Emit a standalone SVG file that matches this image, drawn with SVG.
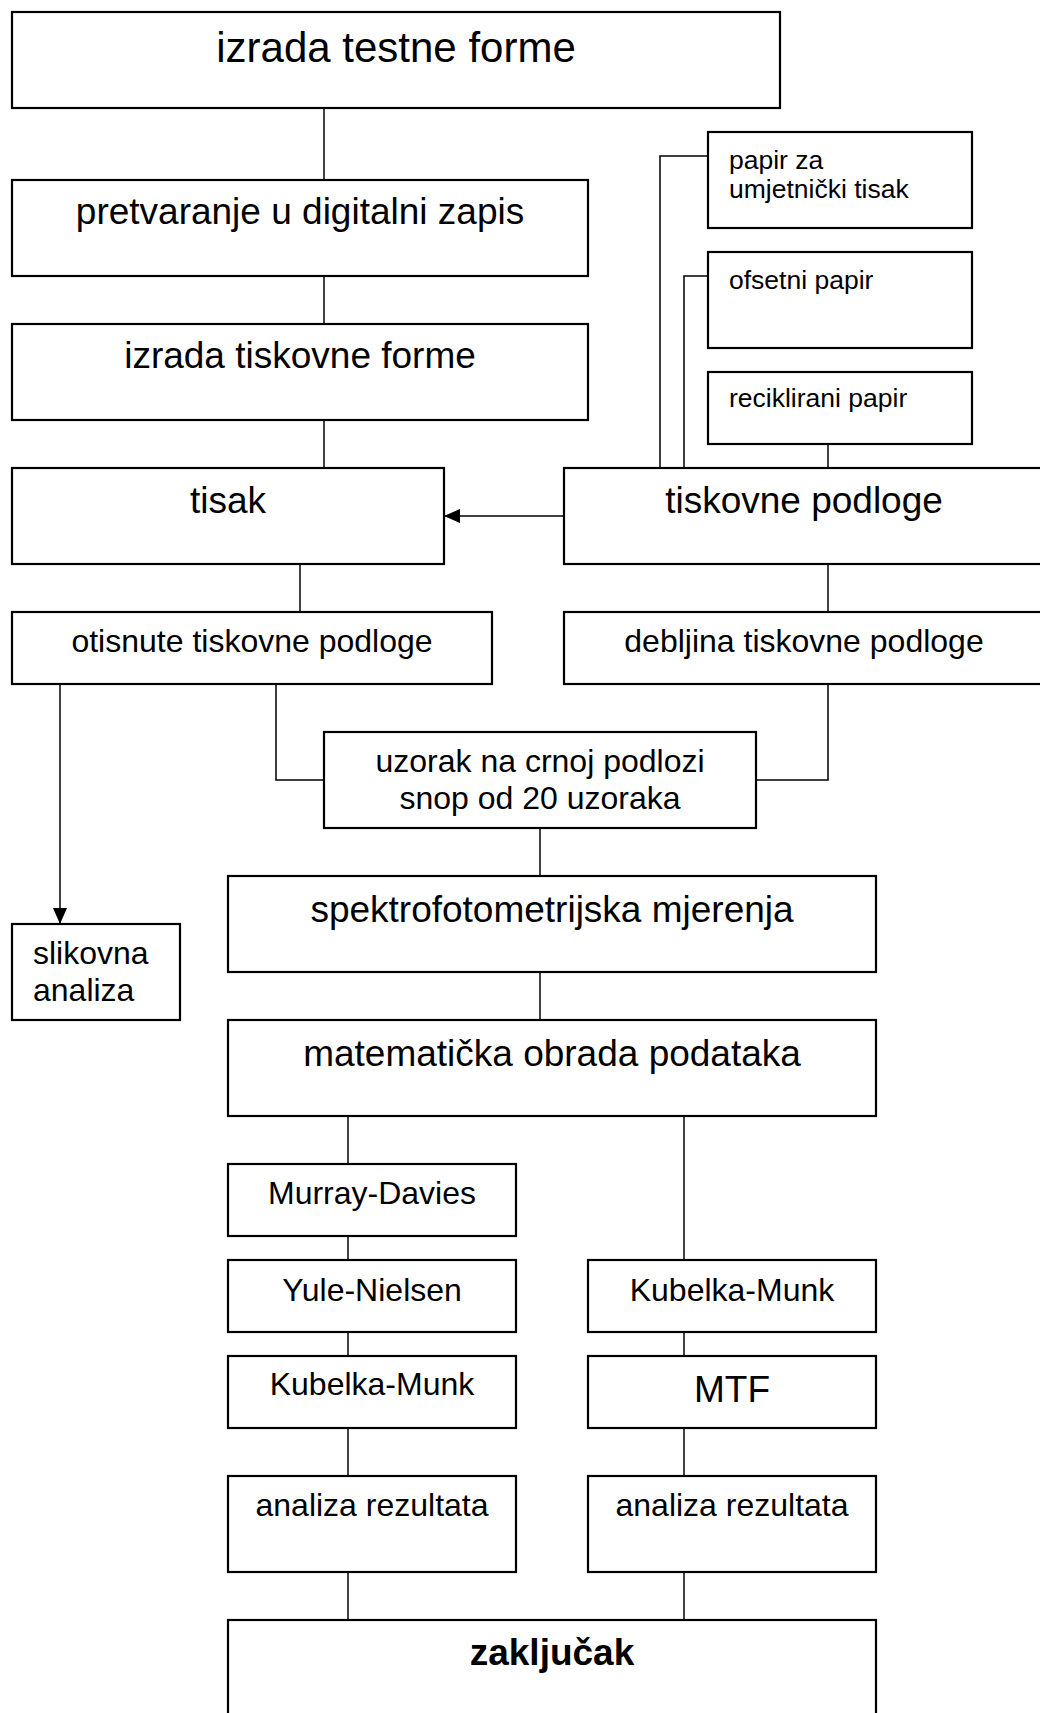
<svg xmlns="http://www.w3.org/2000/svg" width="1040" height="1713" viewBox="0 0 1040 1713">
<style>
  .box { fill: #ffffff; stroke: #000000; stroke-width: 2.2; }
  .conn { fill: none; stroke: #000000; stroke-width: 1.5; }
  text { font-family: "Liberation Sans", Arial, sans-serif; fill: #000000; }
  .c { text-anchor: middle; }
  .xl { font-size: 42px; }
  .l { font-size: 37px; }
  .m { font-size: 32px; }
  .s { font-size: 26.5px; }
  .b { font-weight: bold; }
</style>
<defs>
  <marker id="arrow" markerUnits="userSpaceOnUse" markerWidth="16" markerHeight="14" viewBox="0 0 16 14" refX="16" refY="7" orient="auto">
    <path d="M0,0 L16,7 L0,14 z" fill="#000000"/>
  </marker>
</defs>
<rect x="0" y="0" width="1040" height="1713" fill="#ffffff"/>

<g id="connectors">
  <line class="conn" x1="324" y1="108" x2="324" y2="180"/>
  <line class="conn" x1="324" y1="276" x2="324" y2="324"/>
  <line class="conn" x1="324" y1="420" x2="324" y2="468"/>
  <path class="conn" d="M708,156 H660 V468"/>
  <path class="conn" d="M708,276 H684 V468"/>
  <line class="conn" x1="828" y1="444" x2="828" y2="468"/>
  <line class="conn" x1="564" y1="516" x2="444" y2="516" marker-end="url(#arrow)"/>
  <line class="conn" x1="300" y1="564" x2="300" y2="612"/>
  <line class="conn" x1="828" y1="564" x2="828" y2="612"/>
  <path class="conn" d="M276,684 V780 H324"/>
  <path class="conn" d="M828,684 V780 H756"/>
  <line class="conn" x1="60" y1="684" x2="60" y2="924" marker-end="url(#arrow)"/>
  <line class="conn" x1="540" y1="828" x2="540" y2="876"/>
  <line class="conn" x1="540" y1="972" x2="540" y2="1020"/>
  <line class="conn" x1="348" y1="1116" x2="348" y2="1164"/>
  <line class="conn" x1="684" y1="1116" x2="684" y2="1260"/>
  <line class="conn" x1="348" y1="1236" x2="348" y2="1260"/>
  <line class="conn" x1="348" y1="1332" x2="348" y2="1356"/>
  <line class="conn" x1="684" y1="1332" x2="684" y2="1356"/>
  <line class="conn" x1="348" y1="1428" x2="348" y2="1476"/>
  <line class="conn" x1="684" y1="1428" x2="684" y2="1476"/>
  <line class="conn" x1="348" y1="1572" x2="348" y2="1620"/>
  <line class="conn" x1="684" y1="1572" x2="684" y2="1620"/>
</g>

<g id="izrada-testne-forme">
  <rect class="box" x="12" y="12" width="768" height="96"/>
  <text class="c xl" x="396" y="62">izrada testne forme</text>
</g>
<g id="pretvaranje">
  <rect class="box" x="12" y="180" width="576" height="96"/>
  <text class="c l" x="300" y="224">pretvaranje u digitalni zapis</text>
</g>
<g id="izrada-tiskovne-forme">
  <rect class="box" x="12" y="324" width="576" height="96"/>
  <text class="c l" x="300" y="368">izrada tiskovne forme</text>
</g>
<g id="papir-za-umjetnicki-tisak">
  <rect class="box" x="708" y="132" width="264" height="96"/>
  <text class="s" x="729" y="169">papir za</text>
  <text class="s" x="729" y="198">umjetnički tisak</text>
</g>
<g id="ofsetni-papir">
  <rect class="box" x="708" y="252" width="264" height="96"/>
  <text class="s" x="729" y="289">ofsetni papir</text>
</g>
<g id="reciklirani-papir">
  <rect class="box" x="708" y="372" width="264" height="72"/>
  <text class="s" x="729" y="407">reciklirani papir</text>
</g>
<g id="tisak">
  <rect class="box" x="12" y="468" width="432" height="96"/>
  <text class="c l" x="228" y="513">tisak</text>
</g>
<g id="tiskovne-podloge">
  <rect class="box" x="564" y="468" width="480" height="96"/>
  <text class="c l" x="804" y="513">tiskovne podloge</text>
</g>
<g id="otisnute-tiskovne-podloge">
  <rect class="box" x="12" y="612" width="480" height="72"/>
  <text class="c m" x="252" y="652">otisnute tiskovne podloge</text>
</g>
<g id="debljina-tiskovne-podloge">
  <rect class="box" x="564" y="612" width="480" height="72"/>
  <text class="c m" x="804" y="652">debljina tiskovne podloge</text>
</g>
<g id="uzorak">
  <rect class="box" x="324" y="732" width="432" height="96"/>
  <text class="c m" x="540" y="772">uzorak na crnoj podlozi</text>
  <text class="c m" x="540" y="809">snop od 20 uzoraka</text>
</g>
<g id="slikovna-analiza">
  <rect class="box" x="12" y="924" width="168" height="96"/>
  <text class="m" x="33" y="964">slikovna</text>
  <text class="m" x="33" y="1001">analiza</text>
</g>
<g id="spektrofotometrijska-mjerenja">
  <rect class="box" x="228" y="876" width="648" height="96"/>
  <text class="c l" x="552" y="922">spektrofotometrijska mjerenja</text>
</g>
<g id="matematicka-obrada">
  <rect class="box" x="228" y="1020" width="648" height="96"/>
  <text class="c l" x="552" y="1066">matematička obrada podataka</text>
</g>
<g id="murray-davies">
  <rect class="box" x="228" y="1164" width="288" height="72"/>
  <text class="c m" x="372" y="1204">Murray-Davies</text>
</g>
<g id="yule-nielsen">
  <rect class="box" x="228" y="1260" width="288" height="72"/>
  <text class="c m" x="372" y="1301">Yule-Nielsen</text>
</g>
<g id="kubelka-munk-right">
  <rect class="box" x="588" y="1260" width="288" height="72"/>
  <text class="c m" x="732" y="1301">Kubelka-Munk</text>
</g>
<g id="kubelka-munk-left">
  <rect class="box" x="228" y="1356" width="288" height="72"/>
  <text class="c m" x="372" y="1395">Kubelka-Munk</text>
</g>
<g id="mtf">
  <rect class="box" x="588" y="1356" width="288" height="72"/>
  <text class="c l" x="732" y="1402">MTF</text>
</g>
<g id="analiza-rezultata-left">
  <rect class="box" x="228" y="1476" width="288" height="96"/>
  <text class="c m" x="372" y="1516">analiza rezultata</text>
</g>
<g id="analiza-rezultata-right">
  <rect class="box" x="588" y="1476" width="288" height="96"/>
  <text class="c m" x="732" y="1516">analiza rezultata</text>
</g>
<g id="zakljucak">
  <rect class="box" x="228" y="1620" width="648" height="120"/>
  <text class="c l b" x="552" y="1665">zaključak</text>
</g>
</svg>
